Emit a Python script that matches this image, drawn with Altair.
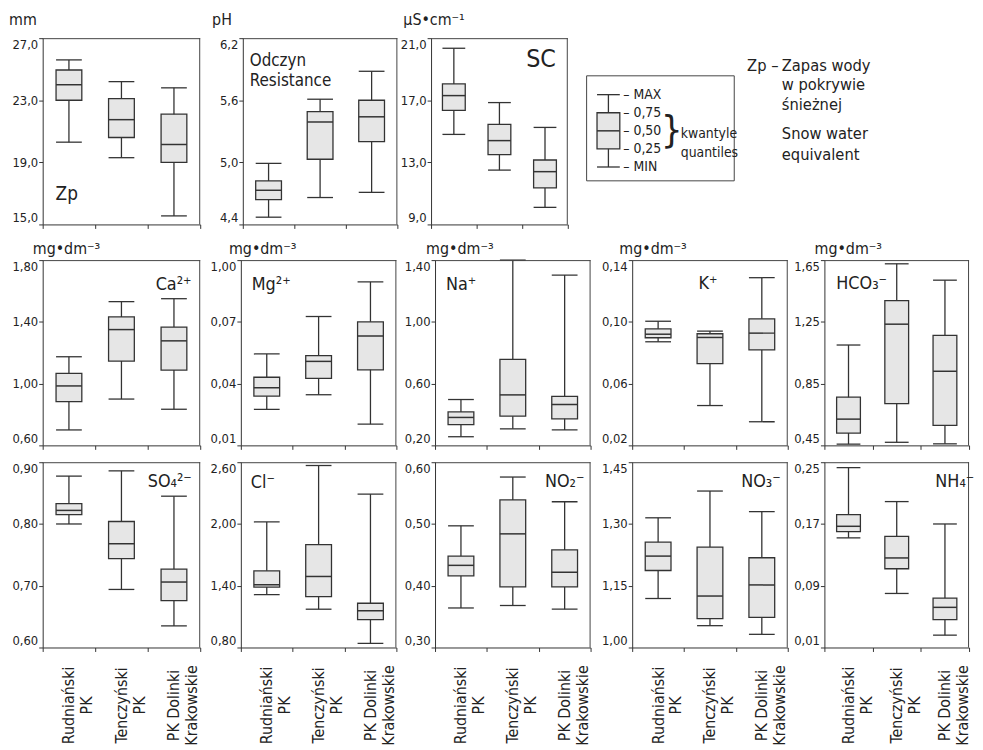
import altair as alt
import pandas as pd

FONT = "Liberation Sans Narrow, DejaVu Sans Condensed, Arial Narrow, sans-serif"
INK = "#333333"
FRAME = "#444444"
FILL = "#e6e6e6"

sites = ["Rudniański|PK", "Tenczyński|PK", "PK Dolinki|Krakowskie"]

# per site: [min, q1, median, q3, max]
zp = [[20.3, 23.0, 24.0, 24.95, 25.6], [19.3, 20.6, 21.75, 23.1, 24.2], [15.55, 19.0, 20.15, 22.1, 23.8]]
ph = [[4.47, 4.64, 4.73, 4.82, 4.99], [4.66, 5.03, 5.39, 5.49, 5.61], [4.71, 5.20, 5.44, 5.60, 5.88]]
sc = [[14.8, 16.35, 17.3, 18.05, 20.35], [12.5, 13.5, 14.4, 15.45, 16.85], [10.1, 11.35, 12.4, 13.15, 15.25]]
ca = [[0.70, 0.884, 0.985, 1.066, 1.174], [0.90, 1.146, 1.35, 1.432, 1.531], [0.834, 1.088, 1.277, 1.366, 1.55]]
mg = [[0.0275, 0.0339, 0.038, 0.0431, 0.0544], [0.0346, 0.0425, 0.0508, 0.0536, 0.0726], [0.0203, 0.0467, 0.0631, 0.070, 0.0894]]
na = [[0.256, 0.335, 0.381, 0.417, 0.497], [0.307, 0.389, 0.527, 0.757, 1.40], [0.30, 0.372, 0.465, 0.518, 1.303]]
k = [[0.0871, 0.0897, 0.092, 0.0955, 0.1004], [0.0458, 0.073, 0.0899, 0.0923, 0.094], [0.0353, 0.0818, 0.0927, 0.102, 0.1286]]
hco3 = [[0.458, 0.53, 0.62, 0.762, 1.10], [0.47, 0.72, 1.235, 1.388, 1.626], [0.46, 0.58, 0.93, 1.162, 1.52]]
so4 = [[0.80, 0.815, 0.822, 0.833, 0.8775], [0.694, 0.744, 0.768, 0.804, 0.886], [0.635, 0.676, 0.706, 0.727, 0.845]]
cl = [[1.313, 1.387, 1.41, 1.545, 2.02], [1.172, 1.294, 1.49, 1.80, 2.568], [0.84, 1.07, 1.157, 1.23, 2.29]]
no2 = [[0.364, 0.416, 0.433, 0.448, 0.497], [0.368, 0.398, 0.484, 0.539, 0.576], [0.362, 0.398, 0.422, 0.458, 0.536]]
no3 = [[1.119, 1.187, 1.222, 1.256, 1.315], [1.053, 1.07, 1.125, 1.244, 1.38], [1.032, 1.073, 1.152, 1.218, 1.33]]
nh4 = [[0.152, 0.160, 0.167, 0.182, 0.243], [0.080, 0.112, 0.126, 0.154, 0.199], [0.026, 0.046, 0.062, 0.074, 0.170]]

zp_ticks = [15, 19, 23, 27]
ph_ticks = [4.4, 5.0, 5.6, 6.2]
sc_ticks = [9, 13, 17, 21]
ca_ticks = [0.6, 1.0, 1.4, 1.8]
mg_ticks = [0.01, 0.04, 0.07, 0.10]
na_ticks = [0.2, 0.6, 1.0, 1.4]
k_ticks = [0.02, 0.06, 0.10, 0.14]
hco3_ticks = [0.45, 0.85, 1.25, 1.65]
so4_ticks = [0.6, 0.7, 0.8, 0.9]
cl_ticks = [0.8, 1.4, 2.0, 2.6]
no2_ticks = [0.3, 0.4, 0.5, 0.6]
no3_ticks = [1.0, 1.15, 1.30, 1.45]
nh4_ticks = [0.01, 0.09, 0.17, 0.25]

# legend: quantile levels of the sample box and their captions
legend_levels = [1.0, 0.75, 0.5, 0.25, 0.0]
legend_names = ["– MAX", "– 0,75", "– 0,50", "– 0,25", "– MIN"]

note_lines = ["Zp –", "Zapas wody", "w pokrywie", "śnieżnej", "Snow water", "equivalent"]
note_x = [162, 197, 197, 197, 197, 197]
note_y = [28, 28, 47, 67, 97, 118]

UNIT_MG = "mg•dm⁻³"
ONE = pd.DataFrame({"a": [0]})


def text_layer(txt, px, py, size=17, align="left", font=FONT, weight="normal", lh=20):
    return alt.Chart(pd.DataFrame({"t": [txt]})).mark_text(
        align=align, baseline="middle", fontSize=size, font=font, fontWeight=weight,
        color="#222", lineBreak="\n", lineHeight=lh).encode(
        x=alt.value(px), y=alt.value(py), text="t:N")


def hline(x0, x1, y, color=FRAME, w=1):
    return alt.Chart(ONE).mark_rule(stroke=color, strokeWidth=w).encode(
        x=alt.value(x0), x2=alt.value(x1), y=alt.value(y))


def vline(x, y0, y1, color=FRAME, w=1):
    return alt.Chart(ONE).mark_rule(stroke=color, strokeWidth=w).encode(
        x=alt.value(x), y=alt.value(y0), y2=alt.value(y1))


def panel(stats, ticks, dec, width, height, extent, unit=None, unit_dx=0, unit_off=8,
          label=None, lx=0, ly=0, lalign="left", lsize=18, xlabels=False, label_expr=None):
    df = pd.DataFrame({
        "site": sites,
        "lo": [s[0] for s in stats],
        "q1": [s[1] for s in stats],
        "med": [s[2] for s in stats],
        "q3": [s[3] for s in stats],
        "hi": [s[4] for s in stats],
    })
    bw = round(width / 3 * 0.5)
    if label_expr is None:
        label_expr = f"replace(format(datum.value, '.{dec}f'), '.', ',')"
    if xlabels:
        xaxis = alt.Axis(title=None,
                         labelExpr="isValid(datum.value) ? split(datum.value, '|') : ''",
                         labelAngle=270, labelAlign="center", labelBaseline="middle",
                         labelPadding=54, labelFontSize=16, labelLineHeight=18, labelFont=FONT,
                         labelColor="#222", tickSize=4, tickBand="extent",
                         domainColor=INK, tickColor=INK)
    else:
        xaxis = alt.Axis(title=None, labels=False, tickSize=4, tickBand="extent",
                         domainColor=INK, tickColor=INK)
    x = alt.X("site:N", sort=sites, scale=alt.Scale(paddingInner=0, paddingOuter=0), axis=xaxis)
    yscale = alt.Scale(domain=[ticks[0], ticks[-1]], nice=False, zero=False)
    yaxis = alt.Axis(title=None, values=ticks, labelExpr=label_expr, tickSize=4, labelPadding=1,
                     labelFlush=True, minExtent=extent, maxExtent=extent, grid=False,
                     labelFont=FONT, labelFontSize=13, labelColor="#222",
                     domainColor=INK, tickColor=INK)
    base = alt.Chart(df)
    rule = base.mark_rule(stroke=INK, strokeWidth=1.3).encode(
        x=x, y=alt.Y("lo:Q", scale=yscale, axis=yaxis), y2="hi:Q")
    box = base.mark_bar(size=bw, fill=FILL, stroke=INK, strokeWidth=1.3).encode(
        x=x, y="q1:Q", y2="q3:Q")
    med = base.mark_tick(size=bw, thickness=1.5, color=INK, opacity=1).encode(x=x, y="med:Q")
    cap_lo = base.mark_tick(size=bw, thickness=1.3, color=INK, opacity=1).encode(x=x, y="lo:Q")
    cap_hi = base.mark_tick(size=bw, thickness=1.3, color=INK, opacity=1).encode(x=x, y="hi:Q")
    layers = [rule, box, med, cap_lo, cap_hi,
              hline(0, width, 0.5), vline(width - 0.5, 0, height)]
    if label is not None:
        layers.append(text_layer(label, lx, ly, size=lsize, align=lalign))
    props = dict(width=width, height=height)
    if unit is not None:
        props["title"] = alt.TitleParams(text=unit, anchor="start", frame="group", dx=unit_dx,
                                         offset=unit_off, fontSize=16, font=FONT,
                                         fontWeight="normal", color="#222")
    return alt.layer(*layers).properties(**props)


# ---------- row 1 ----------
H1 = 188
p_zp = panel(zp, zp_ticks, 1, 159, H1, 35, unit="mm", unit_dx=-34, unit_off=10,
             label="Zp", lx=13, ly=157, lsize=19)
p_ph = panel(ph, ph_ticks, 1, 156, H1, 42, unit="pH", unit_dx=-31, unit_off=10,
             label="Odczyn\nResistance", lx=7, ly=23, lsize=17)
p_sc = panel(sc, sc_ticks, 1, 138, H1, 33, unit="µS•cm⁻¹", unit_dx=-28, unit_off=10,
             label="SC", lx=126, ly=21, lalign="right", lsize=25)

# legend panel (same height as the row-1 panels, frame drawn with rules)
leg_df = pd.DataFrame({"lo": [0.0], "q1": [0.25], "med": [0.5], "q3": [0.75], "hi": [1.0]})
lscale = alt.Scale(domain=[-0.794, 1.781], nice=False, zero=False)
laxis = alt.Axis(title=None, labels=False, ticks=False, domain=False, grid=False,
                 minExtent=18, maxExtent=18)
lb = alt.Chart(leg_df)
l_rule = lb.mark_rule(stroke=INK, strokeWidth=1.3).encode(
    x=alt.value(22), y=alt.Y("lo:Q", scale=lscale, axis=laxis), y2="hi:Q")
l_box = lb.mark_bar(fill=FILL, stroke=INK, strokeWidth=1.3).encode(
    x=alt.value(10.5), x2=alt.value(33.5), y="q1:Q", y2="q3:Q")
l_med = lb.mark_rule(stroke=INK, strokeWidth=1.5).encode(
    x=alt.value(10.5), x2=alt.value(33.5), y="med:Q")
l_lo = lb.mark_rule(stroke=INK, strokeWidth=1.3).encode(
    x=alt.value(10.5), x2=alt.value(33.5), y="lo:Q")
l_hi = lb.mark_rule(stroke=INK, strokeWidth=1.3).encode(
    x=alt.value(10.5), x2=alt.value(33.5), y="hi:Q")
l_txt = alt.Chart(pd.DataFrame({"lev": legend_levels, "name": legend_names})).mark_text(
    align="left", baseline="middle", fontSize=14, font=FONT, color="#222").encode(
    x=alt.value(37), y=alt.Y("lev:Q", scale=lscale), text="name:N")
l_brace = text_layer("}", 86, 94, size=38, align="center", font=FONT, weight=200)
l_kw = text_layer("kwantyle\nquantiles", 95, 96.5, size=14, lh=19)
l_frame = [hline(0, 149, 38), hline(0, 149, 144), vline(0, 38, 144), vline(149, 38, 144)]
l_notes = [text_layer(t, px, py, size=16.5) for t, px, py in zip(note_lines, note_x, note_y)]
legend = alt.layer(*l_frame, l_rule, l_box, l_med, l_lo, l_hi, l_txt, l_brace, l_kw,
                   *l_notes).properties(width=385, height=H1)

row1 = alt.hconcat(p_zp, p_ph, p_sc, legend, spacing=0)

# ---------- row 2 ----------
H2 = 187
W = [159, 157, 157, 157, 146]
E = [35, 40, 38, 41, 36]
p_ca = panel(ca, ca_ticks, 2, W[0], H2, E[0], unit=UNIT_MG, unit_dx=-10, unit_off=3,
             label="Ca²⁺", lx=114, ly=25)
p_mg = panel(mg, mg_ticks, 2, W[1], H2, E[1], unit=UNIT_MG, unit_dx=-12, unit_off=3,
             label="Mg²⁺", lx=11, ly=25,
             label_expr="datum.value > 0.09 ? '1,00' : replace(format(datum.value, '.2f'), '.', ',')")
p_na = panel(na, na_ticks, 2, W[2], H2, E[2], unit=UNIT_MG, unit_dx=-9, unit_off=3,
             label="Na⁺", lx=11, ly=25)
p_k = panel(k, k_ticks, 2, W[3], H2, E[3], unit=UNIT_MG, unit_dx=-13, unit_off=3,
            label="K⁺", lx=67, ly=24)
p_hco3 = panel(hco3, hco3_ticks, 2, W[4], H2, E[4], unit=UNIT_MG, unit_dx=-10, unit_off=3,
               label="HCO₃⁻", lx=12, ly=24)
row2 = alt.hconcat(p_ca, p_mg, p_na, p_k, p_hco3, spacing=0)

# ---------- row 3 ----------
p_so4 = panel(so4, so4_ticks, 2, W[0], H2, E[0], label="SO₄²⁻", lx=106, ly=20, xlabels=True)
p_cl = panel(cl, cl_ticks, 2, W[1], H2, E[1], label="Cl⁻", lx=10, ly=21, xlabels=True)
p_no2 = panel(no2, no2_ticks, 2, W[2], H2, E[2], label="NO₂⁻", lx=111, ly=20, xlabels=True)
p_no3 = panel(no3, no3_ticks, 2, W[3], H2, E[3], label="NO₃⁻", lx=110, ly=20, xlabels=True)
p_nh4 = panel(nh4, nh4_ticks, 2, W[4], H2, E[4], label="NH₄⁻", lx=112, ly=20, xlabels=True)
row3 = alt.hconcat(p_so4, p_cl, p_no2, p_no3, p_nh4, spacing=0)

chart = alt.vconcat(row1, row2, row3, spacing=11).properties(padding=0).configure(
    font=FONT).configure_view(stroke="transparent", strokeWidth=0)

chart.save("out.html", embed_options={"renderer": "svg", "actions": False})
